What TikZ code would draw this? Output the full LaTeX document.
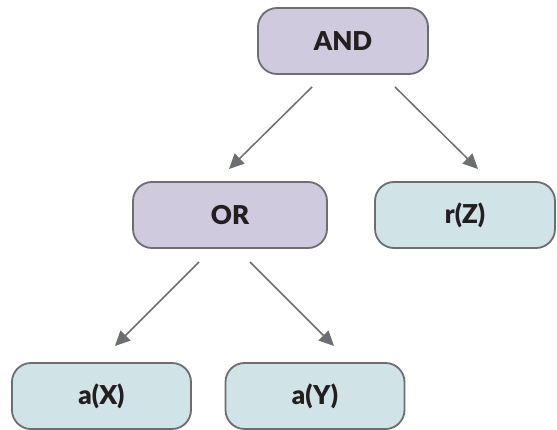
\documentclass[tikz,border=0pt]{standalone}
\usepackage{fontspec}
\setmainfont{Lato}[BoldFont={Lato Black}]
\usetikzlibrary{arrows.meta}
\definecolor{opfill}{HTML}{CFCADD}
\definecolor{leaffill}{HTML}{D0E3E7}
\definecolor{edgegray}{HTML}{6D6E71}
\definecolor{txt}{HTML}{231F20}
\begin{document}
\begin{tikzpicture}[x=1pt,y=-1pt,
  box/.style={draw=edgegray, line width=1.8pt, rounded corners=19pt, minimum width=#1, minimum height=66pt, inner sep=0pt, font=\bfseries\fontsize{26}{30}\selectfont, text=txt},
  opbox/.style={box=#1, fill=opfill},
  leafbox/.style={box=#1, fill=leaffill},
  arr/.style={draw=edgegray, line width=1.5pt, -{Triangle[length=15pt,width=14pt]}}]
\useasboundingbox (0,0) rectangle (557,430);
\node[opbox=170pt] (and) at (343,41) {AND};
\node[opbox=194pt] (or) at (230,215) {OR};
\node[leafbox=180pt] (rz) at (465,215) {r(Z)};
\node[leafbox=179pt] (ax) at (101.5,396) {a(X)};
\node[leafbox=179pt] (ay) at (315,396) {a(Y)};
\coordinate (a1s) at (312,87); \coordinate (a1e) at (229,169);
\coordinate (a2s) at (395,87); \coordinate (a2e) at (478,169);
\coordinate (a3s) at (199,262); \coordinate (a3e) at (115,346);
\coordinate (a4s) at (250,262); \coordinate (a4e) at (334,346);
\draw[arr] (a1s) -- (a1e);
\draw[arr] (a2s) -- (a2e);
\draw[arr] (a3s) -- (a3e);
\draw[arr] (a4s) -- (a4e);
\end{tikzpicture}
\end{document}
